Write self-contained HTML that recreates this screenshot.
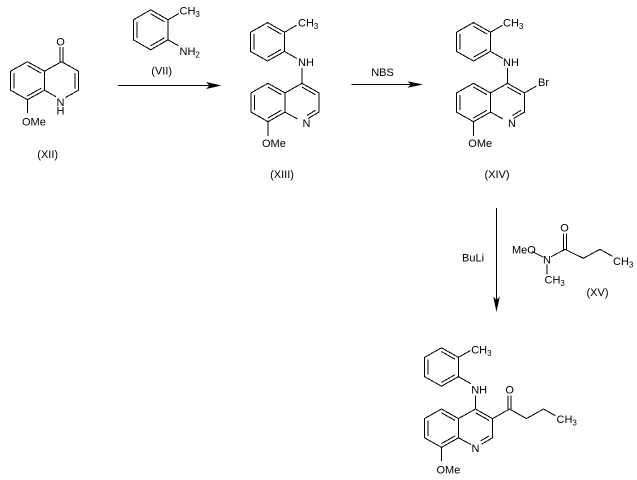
<!DOCTYPE html>
<html>
<head>
<meta charset="utf-8">
<style>
html,body{margin:0;padding:0;background:#fff;width:637px;height:480px;overflow:hidden;}
svg{display:block;}
</style>
</head>
<body>
<svg width="637" height="480" viewBox="0 0 637 480" xmlns="http://www.w3.org/2000/svg">
<rect x="0" y="0" width="637" height="480" fill="#fff"/>
<g stroke="#000" stroke-width="1" fill="none" shape-rendering="crispEdges">
  <!-- XII -->
  <path d="M27.5,61.7 L44.5,71.2 L44.5,90.2 L27.5,99.7 L10.5,90.2 L10.5,71.2 Z"/>
  <path d="M44.5,71.2 L61.5,61.7 L78.5,71.2 L78.5,90.2 L65.5,97.5 M44.5,90.2 L56,96.7"/>
  <path d="M59.8,47 V62 M63.2,47 V62"/>
  <path d="M13.9,73.1 V88.3 M27.5,65.5 L41.1,73.1 M27.5,95.9 L41.1,88.3 M75.1,73.1 V88.3"/>
  <path d="M27.5,99.7 V113"/>

  <!-- VII -->
  <path d="M150.7,9.8 L168,19.8 L168,39.8 L150.7,49.8 L133.4,39.8 L133.4,19.8 Z"/>
  <path d="M136.9,21.8 V37.8 M150.7,13.8 L164.5,21.8 M164.5,37.8 L150.7,45.8"/>
  <path d="M168,19.8 L179,13.5 M168,39.8 L178.5,45.8"/>

  <!-- arrow 1 -->
  <path d="M118,85.5 H212"/>

  <!-- XIII -->
  <path d="M267.5,22.6 L284.5,32.2 L284.5,51.4 L267.5,61 L250.5,51.4 L250.5,32.2 Z"/>
  <path d="M253.9,34.1 V49.5 M267.5,26.4 L281.1,34.1 M281.1,49.5 L267.5,57.2"/>
  <path d="M284.5,32.2 L296.5,25.3 M284.5,51.4 L297,58.6 M302,83.3 V68"/>
  <path d="M268,83.3 L285,92.9 L285,112.1 L268,121.7 L251,112.1 L251,92.9 Z"/>
  <path d="M285,92.9 L302,83.3 L319,92.9 L319,112.1 L308,118.5 M285,112.1 L297.5,119"/>
  <path d="M254.4,94.8 V110.2 M268,87.1 L281.6,94.8 M268,117.9 L281.6,110.2"/>
  <path d="M302,87.1 L315.6,94.8 M307,115.5 L315.6,110.2"/>
  <path d="M268,121.7 V136"/>

  <!-- arrow 2 -->
  <path d="M351.7,84.5 H413"/>

  <!-- XIV -->
  <path d="M473.5,22.6 L490.5,32.2 L490.5,51.4 L473.5,61 L456.5,51.4 L456.5,32.2 Z"/>
  <path d="M459.9,34.1 V49.5 M473.5,26.4 L487.1,34.1 M487.1,49.5 L473.5,57.2"/>
  <path d="M490.5,32.2 L502.5,25.3 M490.5,51.4 L503,58.6 M507.5,83.3 V68"/>
  <path d="M473.5,83.3 L490.5,92.9 L490.5,112.1 L473.5,121.7 L456.5,112.1 L456.5,92.9 Z"/>
  <path d="M490.5,92.9 L507.5,83.3 L524.5,92.9 L524.5,112.1 L513.5,118.5 M490.5,112.1 L503,119"/>
  <path d="M459.9,94.8 V110.2 M473.5,87.1 L487.1,94.8 M473.5,117.9 L487.1,110.2"/>
  <path d="M507.5,87.1 L521.1,94.8 M512.5,115.5 L521.1,110.2"/>
  <path d="M524.5,92.9 L536.5,86"/>
  <path d="M473.5,121.7 V136"/>

  <!-- vertical arrow -->
  <path d="M496.5,208 V302"/>

  <!-- XV -->
  <path d="M532,251.5 L543.5,257.3 M547,264.5 V274.5 M551,256.8 L565,249.3 L583.3,258.3 L600,249.3 L612.5,256.3"/>
  <path d="M563.3,233.5 V249.3 M566.7,233.5 V249.3"/>

  <!-- Final product -->
  <path d="M441.5,347.8 L458.5,357.4 L458.5,376.6 L441.5,386.2 L424.5,376.6 L424.5,357.4 Z"/>
  <path d="M427.9,359.3 V374.7 M441.5,351.6 L455.1,359.3 M455.1,374.7 L441.5,382.4"/>
  <path d="M458.5,357.4 L470.5,350.5 M458.5,376.6 L471,383.8 M475.5,409 V395.5"/>
  <path d="M441.5,409 L458.5,418.6 L458.5,437.8 L441.5,447.4 L424.5,437.8 L424.5,418.6 Z"/>
  <path d="M458.5,418.6 L475.5,409 L492.5,418.6 L492.5,437.8 L481.5,444.2 M458.5,437.8 L471,444.6"/>
  <path d="M427.9,420.5 V435.9 M441.5,412.8 L455.1,420.5 M441.5,443.6 L455.1,435.9"/>
  <path d="M475.5,412.8 L489.1,420.5 M480.5,441 L489.1,435.9"/>
  <path d="M492.5,418.6 L509.5,409 L526.5,418.6 L543.5,409 L555.5,415.8"/>
  <path d="M507.8,395.5 V409 M511.2,395.5 V409"/>
  <path d="M441.5,447.4 V461"/>
</g>
<g fill="#000" stroke="none">
  <polygon points="221.5,85.5 206,82 209.5,85.5 206,89"/>
  <polygon points="423,84.5 407.5,81.2 411,84.5 407.5,87.8"/>
  <polygon points="496.5,312 493.2,296.5 496.5,300 499.8,296.5"/>
</g>
<g font-family="Liberation Sans, Arial, sans-serif" font-size="11" fill="#000">
  <!-- XII -->
  <text x="60.5" y="45.5" text-anchor="middle">O</text>
  <text x="60.5" y="106" text-anchor="middle">N</text>
  <text x="60.5" y="114.5" text-anchor="middle">H</text>
  <text x="22" y="125.5">OMe</text>
  <text x="47.7" y="158" text-anchor="middle">(XII)</text>

  <!-- VII -->
  <text x="179.5" y="14.5">CH<tspan font-size="8" dy="2.5">3</tspan></text>
  <text x="179.5" y="55">NH<tspan font-size="8" dy="2.5">2</tspan></text>
  <text x="161.7" y="74.5" text-anchor="middle">(VII)</text>

  <!-- XIII -->
  <text x="298" y="26.5">CH<tspan font-size="8" dy="2.5">3</tspan></text>
  <text x="298" y="66">NH</text>
  <text x="302.5" y="127">N</text>
  <text x="262" y="146.8">OMe</text>
  <text x="282" y="178" text-anchor="middle">(XIII)</text>

  <text x="382.5" y="76" text-anchor="middle">NBS</text>

  <!-- XIV -->
  <text x="503" y="26.5">CH<tspan font-size="8" dy="2.5">3</tspan></text>
  <text x="503" y="66">NH</text>
  <text x="538" y="86">Br</text>
  <text x="508" y="127">N</text>
  <text x="468.3" y="146.8">OMe</text>
  <text x="497" y="178" text-anchor="middle">(XIV)</text>

  <text x="462" y="261.7">BuLi</text>

  <!-- XV -->
  <text x="512" y="253.3">MeO</text>
  <text x="547" y="263.5" text-anchor="middle">N</text>
  <text x="544.5" y="283.3">CH<tspan font-size="8" dy="2.5">3</tspan></text>
  <text x="564.5" y="231.7" text-anchor="middle">O</text>
  <text x="613" y="265">CH<tspan font-size="8" dy="2.5">3</tspan></text>
  <text x="586.5" y="296">(XV)</text>

  <!-- Final -->
  <text x="471.2" y="353.5">CH<tspan font-size="8" dy="2.5">3</tspan></text>
  <text x="471.2" y="393.3">NH</text>
  <text x="509.7" y="393.3" text-anchor="middle">O</text>
  <text x="556.5" y="423">CH<tspan font-size="8" dy="2.5">3</tspan></text>
  <text x="475.5" y="452" text-anchor="middle">N</text>
  <text x="436.5" y="473.3">OMe</text>
</g>
</svg>
</body>
</html>
